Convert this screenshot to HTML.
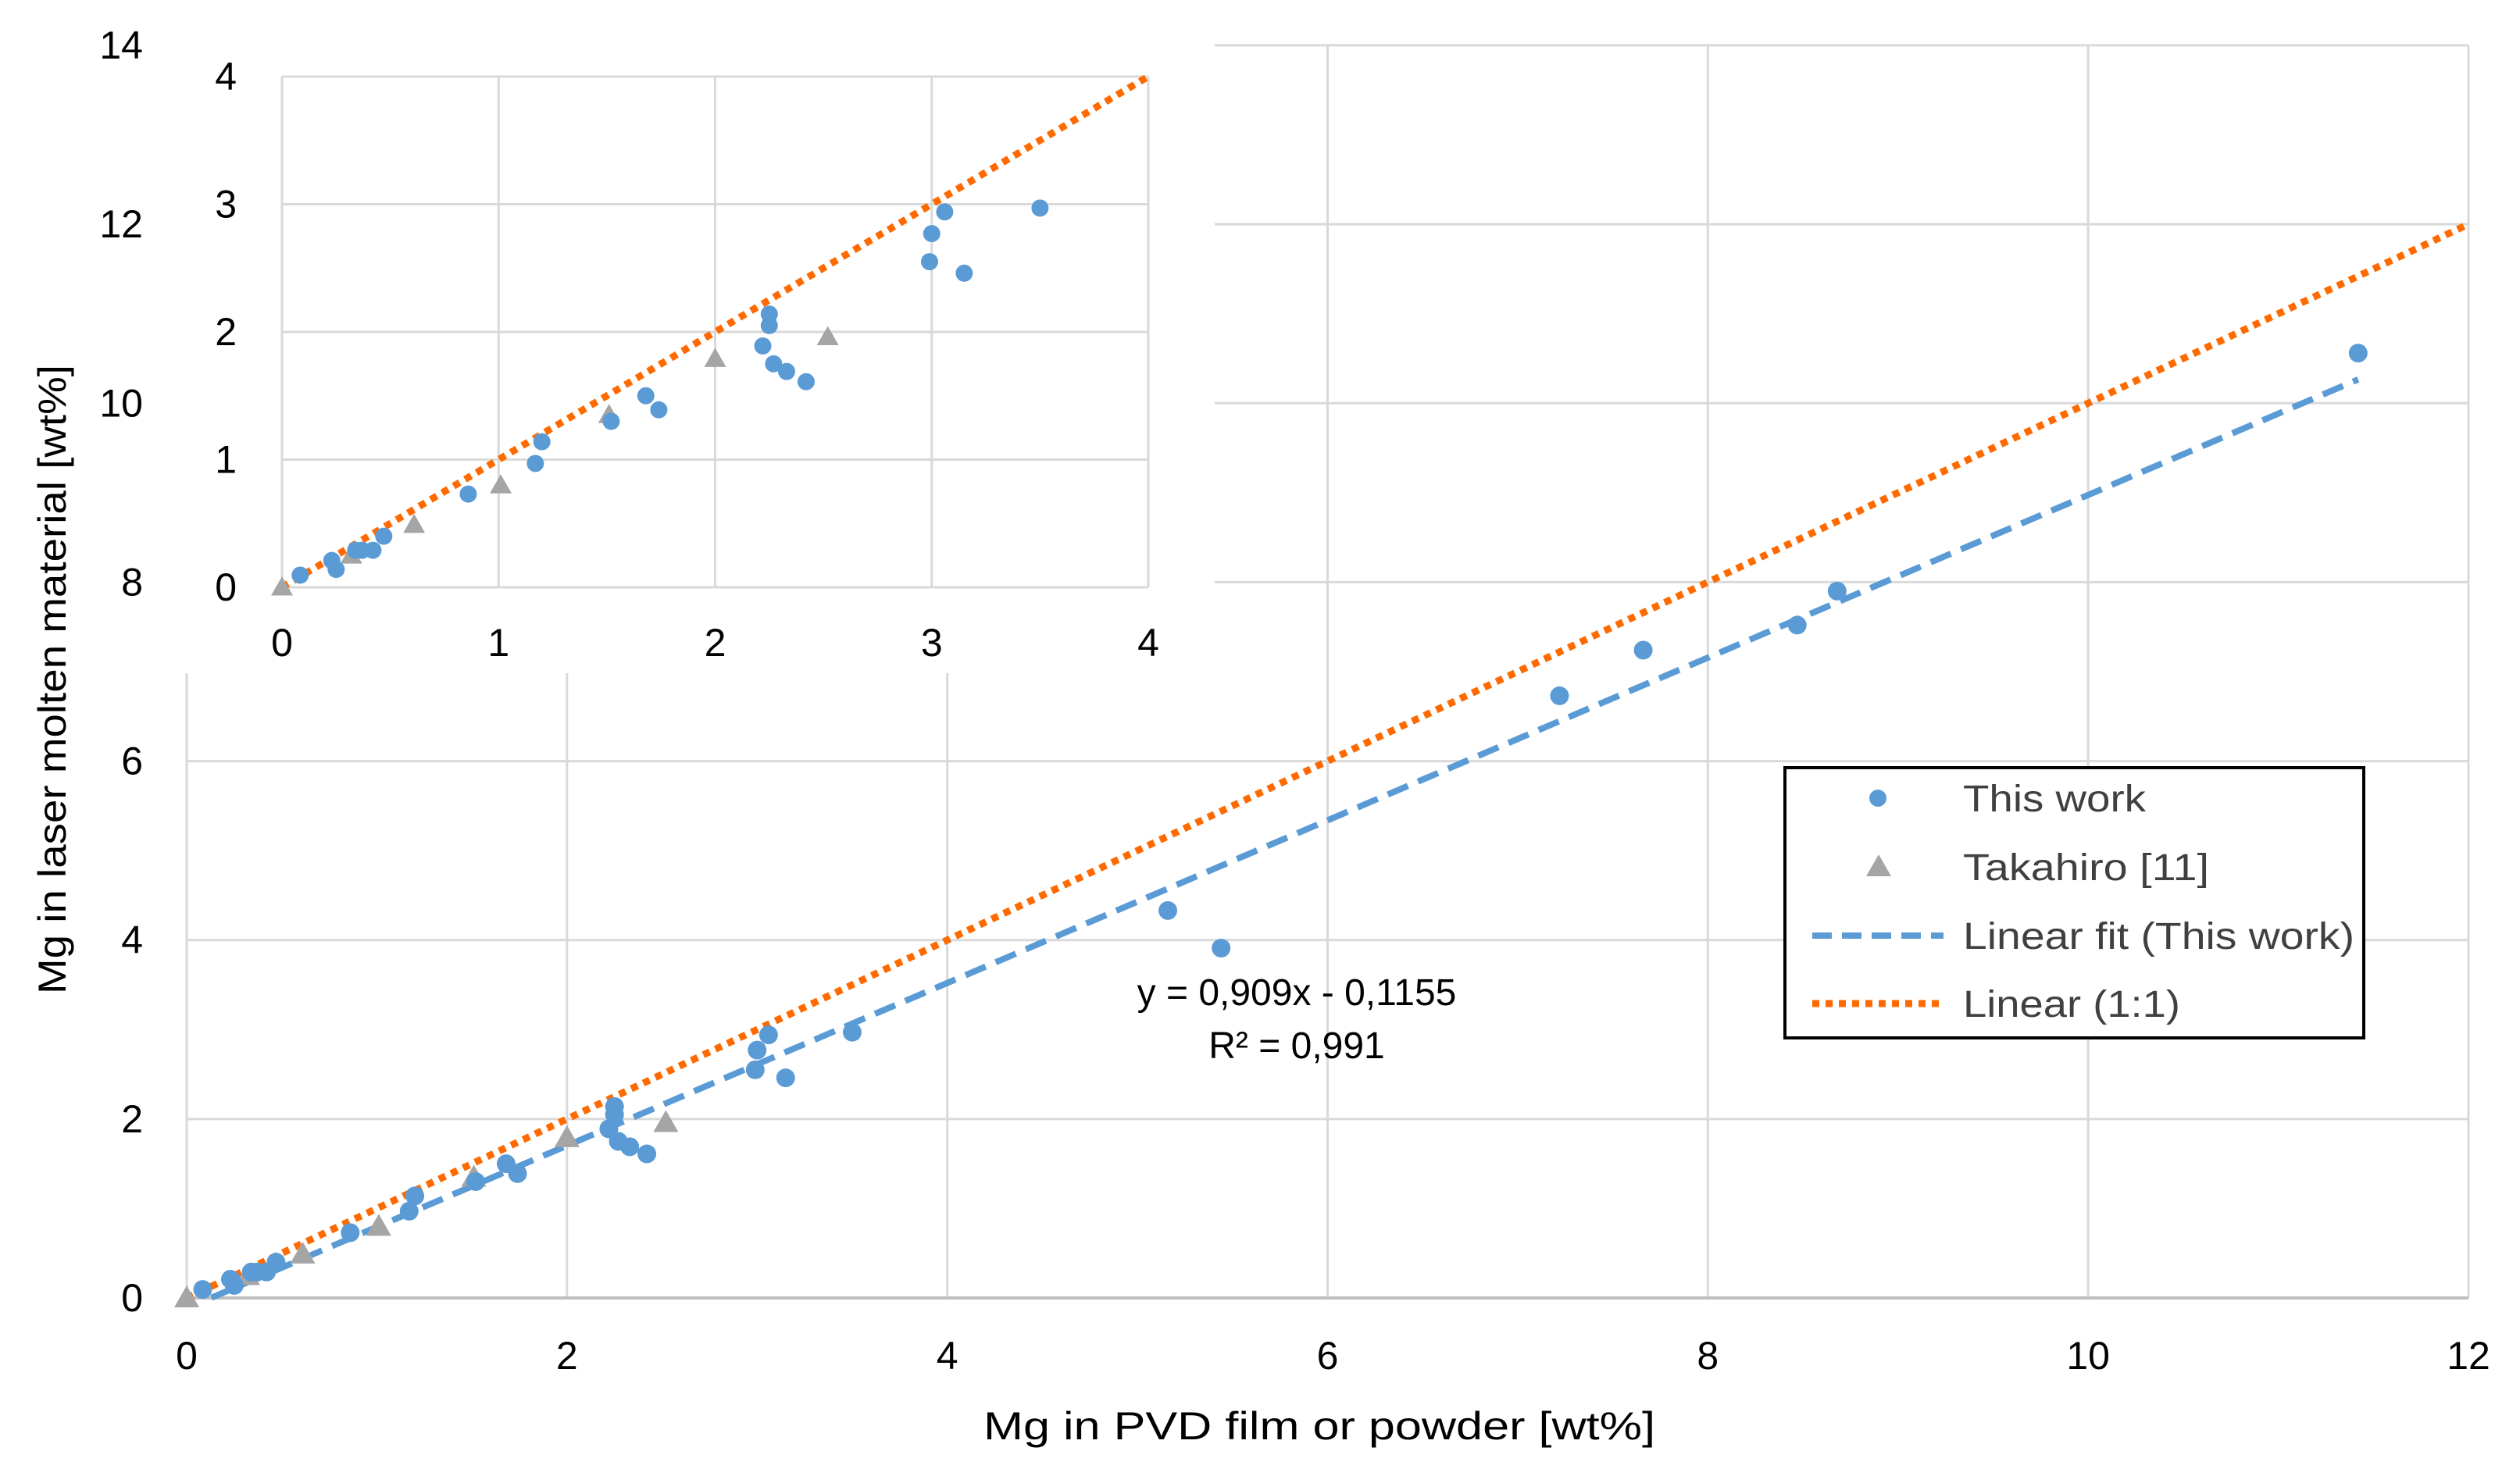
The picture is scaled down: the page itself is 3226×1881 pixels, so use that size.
<!DOCTYPE html>
<html><head><meta charset="utf-8"><style>
html,body{margin:0;padding:0;background:#fff;}
svg{display:block;font-family:"Liberation Sans",sans-serif;}
</style></head><body>
<svg id="chart" width="3226" height="1881" viewBox="0 0 3226 1881" xmlns="http://www.w3.org/2000/svg">
<rect width="3226" height="1881" fill="#fff"/>
<g id="main"></g>
<g id="inset"></g>
<g id="legend"></g>
</svg>
<script>
const thisWorkX=[0.084,0.23,0.25,0.34,0.37,0.42,0.47,0.86,1.17,1.20,1.52,1.68,1.74,2.22,2.25,2.25,2.27,2.33,2.42,2.99,3.00,3.06,3.15,3.50,5.16,5.44,7.22,7.66,8.47,8.68,11.42];
const thisWorkY=[0.095,0.21,0.14,0.29,0.29,0.29,0.40,0.73,0.97,1.14,1.30,1.50,1.39,1.89,2.14,2.05,1.75,1.69,1.61,2.55,2.77,2.94,2.46,2.97,4.33,3.91,6.73,7.24,7.52,7.90,10.56];
const takX=[0,0.32,0.61,1.01,1.51,2.00,2.52];
const takY=[0,0.25,0.49,0.80,1.35,1.79,1.96];
const fitSlope=0.909, fitIntercept=-0.1155;
const mainXTicks=[0,2,4,6,8,10,12];
const mainYTicks=[0,2,4,6,8,10,12,14];
const insetTicks=[0,1,2,3,4];

const NS="http://www.w3.org/2000/svg";
function el(tag,attrs,parent,text){const e=document.createElementNS(NS,tag);for(const k in attrs)e.setAttribute(k,attrs[k]);if(text!==undefined)e.textContent=text;parent.appendChild(e);return e;}
const BLUE="#5B9BD5",GRAY="#A5A5A5",ORANGE="#FF6A00",GRID="#D9D9D9";

const mx=v=>239+v*(3160-239)/12;
const my=v=>1662-v*(1662-58)/14;
const main=document.getElementById('main');
mainXTicks.forEach(t=>{
  const l=el('line',{x1:mx(t),x2:mx(t),y1:my(0),y2:my(14),stroke:GRID,'stroke-width':3},main);
  
  
  const tx=el('text',{x:mx(t),y:1753,'font-size':50,'text-anchor':'middle',fill:'#000'},main,String(t));
  
  
});
mainYTicks.forEach(t=>{
  const l=el('line',{x1:mx(0),x2:mx(12),y1:my(t),y2:my(t),stroke:GRID,'stroke-width':3},main);
  
  
  const tx=el('text',{x:183,y:my(t)+17,'font-size':50,'text-anchor':'end',fill:'#000'},main,String(t));
  
  
});
const ax=el('line',{x1:mx(0),x2:mx(12),y1:my(0),y2:my(0),stroke:'#BFBFBF','stroke-width':4},main);



const one=el('line',{x1:mx(0),y1:my(0),x2:mx(12),y2:my(12),stroke:ORANGE,'stroke-width':9,'stroke-dasharray':'9 8'},main);


const fx0=0.13,fx1=11.42;
const fit=el('line',{x1:mx(fx0),y1:my(fitSlope*fx0+fitIntercept),x2:mx(fx1),y2:my(fitSlope*fx1+fitIntercept),stroke:BLUE,'stroke-width':8,'stroke-dasharray':'28 14'},main);



function tri(g,cx,cy,s,name){
  const p=el('polygon',{points:`${cx},${cy-s} ${cx-s},${cy+s*0.75} ${cx+s},${cy+s*0.75}`,fill:GRAY},g);
  
  
}
takX.forEach((x,i)=>tri(main,mx(x),my(takY[i]),16,'takahiro-point'));
thisWorkX.forEach((x,i)=>{
  const c=el('circle',{cx:mx(x),cy:my(thisWorkY[i]),r:12,fill:BLUE},main);
  
  
});

const eq1=el('text',{x:1660,y:1287,'font-size':48,'text-anchor':'middle',fill:'#000'},main,'y = 0,909x - 0,1155');


const eq2=el('text',{x:1660,y:1355,'font-size':48,'text-anchor':'middle',fill:'#000'},main,'R² = 0,991');



const xt=el('text',{x:1689,y:1843,'font-size':50,'text-anchor':'middle',fill:'#000',textLength:860,lengthAdjust:'spacingAndGlyphs'},main,'Mg in PVD film or powder [wt%]');


const yt=el('text',{x:0,y:0,'font-size':50,'text-anchor':'middle',fill:'#000',textLength:806,lengthAdjust:'spacingAndGlyphs',transform:'translate(84,870) rotate(-90)'},main,'Mg in laser molten material [wt%]');



const inset=document.getElementById('inset');
const bg=el('rect',{x:237,y:56,width:1318,height:806,fill:'#fff'},inset);


const ix=v=>361+v*(1470-361)/4;
const iy=v=>752-v*(752-98)/4;
insetTicks.forEach(t=>{
  const l=el('line',{x1:ix(t),x2:ix(t),y1:iy(0),y2:iy(4),stroke:GRID,'stroke-width':3},inset);
  
  
  const l2=el('line',{x1:ix(0),x2:ix(4),y1:iy(t),y2:iy(t),stroke:GRID,'stroke-width':3},inset);
  
  
  const tx=el('text',{x:ix(t),y:840,'font-size':50,'text-anchor':'middle',fill:'#000'},inset,String(t));
  
  
  const ty=el('text',{x:303,y:iy(t)+17,'font-size':50,'text-anchor':'end',fill:'#000'},inset,String(t));
  
  
});
const ione=el('line',{x1:ix(0),y1:iy(0),x2:ix(4),y2:iy(4),stroke:ORANGE,'stroke-width':9,'stroke-dasharray':'9 8'},inset);


takX.forEach((x,i)=>{if(x<=4)tri(inset,ix(x),iy(takY[i]),14,'inset-takahiro-point');});
thisWorkX.forEach((x,i)=>{
  if(x>4)return;
  const c=el('circle',{cx:ix(x),cy:iy(thisWorkY[i]),r:11,fill:BLUE},inset);
  
  
});

const lg=document.getElementById('legend');
const box=el('rect',{x:2285,y:983,width:741,height:346,fill:'#fff',stroke:'#000','stroke-width':4},lg);


const rows=[1022,1110,1198,1285];
const labels=['This work','Takahiro [11]','Linear fit (This work)','Linear (1:1)'];
const widths=[234,315,501,278];
const lc=el('circle',{cx:2404,cy:rows[0],r:11,fill:BLUE},lg);


tri(lg,2405,rows[1],16,'legend-marker-takahiro');
const ll1=el('line',{x1:2320,x2:2488,y1:rows[2],y2:rows[2],stroke:BLUE,'stroke-width':8,'stroke-dasharray':'25 13'},lg);


const ll2=el('line',{x1:2320,x2:2488,y1:rows[3],y2:rows[3],stroke:ORANGE,'stroke-width':9,'stroke-dasharray':'9 8'},lg);


labels.forEach((t,i)=>{
  const tx=el('text',{x:2513,y:rows[i]+17,'font-size':48,fill:'#404040',textLength:widths[i],lengthAdjust:'spacingAndGlyphs'},lg,t);
  
  
});
</script>
</body></html>
